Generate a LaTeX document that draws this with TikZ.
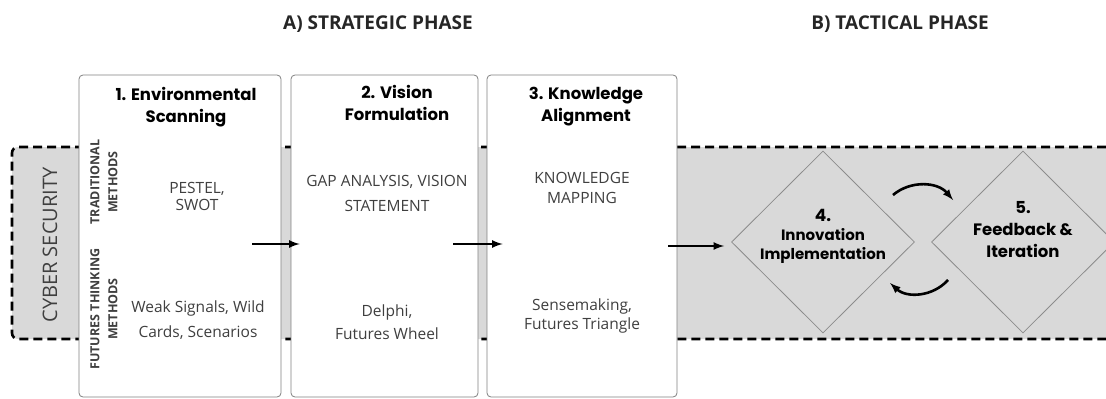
\documentclass[tikz,border=0pt]{standalone}
\usepackage{fontspec}
\setmainfont{Open Sans}
\newfontfamily\stagefont{Poppins}
\usepackage{tikz}
\usetikzlibrary{shapes.geometric}
\tikzset{>=latex}

\definecolor{bandgray}{HTML}{D9D9D9}
\definecolor{txtgray}{HTML}{3F3F3F}

\tikzset{
  stage/.style={draw=black!50, line width=0.8pt, fill=white, rounded corners=4pt,
                minimum height=322pt, inner sep=0pt},
  stagetitle/.style={font=\stagefont\bfseries\fontsize{16.5}{22}\selectfont, align=center},
  method/.style={text=txtgray, align=center},
  sidelabel/.style={font=\bfseries\fontsize{12.5}{18}\selectfont, text=txtgray, align=center, rotate=90},
  diam/.style={shape=diamond, draw=black!45, line width=0.8pt, minimum width=183pt,
               minimum height=182pt, inner sep=0pt},
  diamtext/.style={align=center},
  flow/.style={->, line width=2.6pt},
  phase/.style={font=\bfseries\fontsize{19}{22}\selectfont, text=black!85}
}

\begin{document}
\begin{tikzpicture}[x=1pt,y=-1pt]
  \useasboundingbox (0,0) rectangle (1106,399);

  % gray band running under the whole process
  \fill[bandgray, rounded corners=6pt] (1120,147) -- (12,147) -- (12,339) -- (1120,339);
  \draw[line width=2.6pt, dash pattern=on 9pt off 5pt, rounded corners=6pt]
    (1120,147) -- (12,147) -- (12,339) -- (1120,339);
  \node[rotate=90, font=\fontsize{20}{22}\selectfont, text=txtgray] (cyber) at (50,245) {CYBER SECURITY};

  % phase headings
  \node[phase] (strategic) at (378,24) {A) STRATEGIC PHASE};
  \node[phase] (tactical) at (900,24) {B) TACTICAL PHASE};

  % strategic stages
  \node[stage, minimum width=202pt] (scan) at (180,236) {};
  \node[stage, minimum width=187pt] (vision) at (384.5,236) {};
  \node[stage, minimum width=190pt] (align) at (582,236) {};

  \node[stagetitle] (scan-t) at (186,107) {1. Environmental\\Scanning};
  \node[stagetitle] (vision-t) at (397,103) {2. Vision\\Formulation};
  \node[stagetitle] (align-t) at (586,107) {3. Knowledge\\Alignment};

  \node[sidelabel] (trad) at (104,182) {TRADITIONAL\\METHODS};
  \node[sidelabel] (fut) at (104,309) {FUTURES THINKING\\METHODS};

  \node[method, font=\fontsize{15.5}{17}\selectfont] (pestel) at (197,196) {PESTEL,\\SWOT};
  \node[method, font=\fontsize{15.5}{25}\selectfont] (weak) at (198,320) {Weak Signals, Wild\\Cards, Scenarios};
  \node[method, font=\fontsize{15.5}{25}\selectfont] (gap) at (387,193) {GAP ANALYSIS, VISION\\STATEMENT};
  \node[method, font=\fontsize{15.5}{23}\selectfont] (delphi) at (387,322) {Delphi,\\Futures Wheel};
  \node[method, font=\fontsize{15.5}{20}\selectfont] (kmap) at (582,188) {KNOWLEDGE\\MAPPING};
  \node[method, font=\fontsize{15.5}{19}\selectfont] (sense) at (582,316) {Sensemaking,\\Futures Triangle};

  % tactical loop
  \node[diam] (impl) at (823,242) {};
  \node[diam] (feed) at (1023,242) {};
  \node[diamtext, font=\stagefont\bfseries\fontsize{15}{19}\selectfont] (impl-t) at (823,236)
    {{\fontsize{17}{19}\selectfont 4.}\\Innovation\\Implementation};
  \node[diamtext, font=\stagefont\bfseries\fontsize{16.5}{22}\selectfont] (feed-t) at (1023,230)
    {5.\\Feedback \&\\Iteration};

  % flow between stages
  \draw[flow] ([shift={(-29,8)}]scan.east) -- ([shift={(9,8)}]vision.west);
  \draw[flow] ([shift={(-25,8)}]vision.east) -- ([shift={(16,8)}]align.west);
  \draw[flow] ([shift={(-9,10)}]align.east) -- ([shift={(-7,4)}]impl.west);
  \draw[flow] ([shift={(70,-47)}]impl.center) to[bend left=45] ([shift={(-70,-42)}]feed.center);
  \draw[flow] ([shift={(-75,38)}]feed.center) to[bend left=45] ([shift={(67,41)}]impl.center);
\end{tikzpicture}
\end{document}
